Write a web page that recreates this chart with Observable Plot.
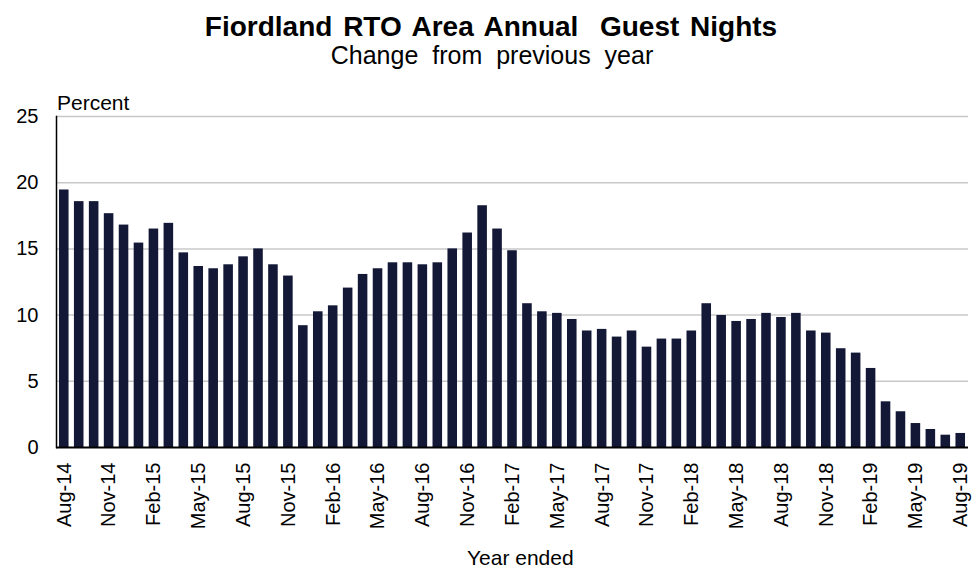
<!DOCTYPE html>
<html>
<head>
<meta charset="utf-8">
<script src="https://cdn.jsdelivr.net/npm/d3@7"></script>
<script src="https://cdn.jsdelivr.net/npm/@observablehq/plot@0.6"></script>
<style>
  html, body { margin: 0; padding: 0; background: #fff; }
  body { width: 972px; height: 570px; position: relative; overflow: hidden; font-family: "Liberation Sans", Arial, sans-serif; color: #000; }
  .t { position: absolute; white-space: pre; }
  #chart { position: absolute; left: 0; top: 0; }
</style>
</head>
<body>
<div class="t" id="title" style="left:0;width:982px;text-align:center;top:12.8px;font-size:28px;line-height:28px;font-weight:bold;word-spacing:3px;">Fiordland RTO Area Annual  Guest Nights</div>
<div class="t" id="subtitle" style="left:0;width:984px;text-align:center;top:42.8px;font-size:25px;line-height:25px;word-spacing:7px;">Change from previous year</div>
<div id="chart"></div>
<div class="t" id="ylabel" style="left:57px;top:92px;font-size:21px;line-height:21px;">Percent</div>
<div class="t" id="xlabel" style="left:467px;top:547px;font-size:21px;line-height:21px;">Year ended</div>
<script>
const months = [
  "Aug-14","Sep-14","Oct-14","Nov-14","Dec-14","Jan-15","Feb-15","Mar-15","Apr-15","May-15","Jun-15","Jul-15",
  "Aug-15","Sep-15","Oct-15","Nov-15","Dec-15","Jan-16","Feb-16","Mar-16","Apr-16","May-16","Jun-16","Jul-16",
  "Aug-16","Sep-16","Oct-16","Nov-16","Dec-16","Jan-17","Feb-17","Mar-17","Apr-17","May-17","Jun-17","Jul-17",
  "Aug-17","Sep-17","Oct-17","Nov-17","Dec-17","Jan-18","Feb-18","Mar-18","Apr-18","May-18","Jun-18","Jul-18",
  "Aug-18","Sep-18","Oct-18","Nov-18","Dec-18","Jan-19","Feb-19","Mar-19","Apr-19","May-19","Jun-19","Jul-19",
  "Aug-19"
];
const changePct = [
  19.45, 18.57, 18.57, 17.66, 16.8, 15.44, 16.5, 16.93, 14.7, 13.67, 13.5, 13.8,
  14.4, 15.0, 13.8, 12.95, 9.2, 10.25, 10.7, 12.04, 13.07, 13.5, 13.95, 13.95,
  13.8, 13.95, 15.0, 16.2, 18.26, 16.5, 14.86, 10.86, 10.25, 10.13, 9.67, 8.8,
  8.92, 8.34, 8.8, 7.58, 8.19, 8.19, 8.8, 10.86, 9.97, 9.52, 9.67, 10.13,
  9.82, 10.13, 8.8, 8.64, 7.46, 7.13, 5.97, 3.45, 2.7, 1.81, 1.36, 0.93,
  1.06
];
const xTickLabels = ["Aug-14","Nov-14","Feb-15","May-15","Aug-15","Nov-15","Feb-16","May-16","Aug-16","Nov-16","Feb-17",
  "May-17","Aug-17","Nov-17","Feb-18","May-18","Aug-18","Nov-18","Feb-19","May-19","Aug-19"];
const yTicks = [0, 5, 10, 15, 20, 25];
const gridTicks = [5, 10, 15, 20, 25];

const data = months.map((m, i) => ({month: m, value: changePct[i]}));

const chart = Plot.plot({
  width: 972,
  height: 570,
  marginTop: 116,
  marginBottom: 123,
  marginLeft: 56,
  marginRight: 4,
  style: {fontFamily: "'Liberation Sans', Arial, sans-serif", fontSize: "20px", color: "#000", background: "transparent"},
  x: {domain: months, paddingInner: 0.36, paddingOuter: 0.2, label: null},
  y: {domain: [0, 25], label: null},
  marks: [
    Plot.gridY(gridTicks, {stroke: "#c8c8c8", strokeOpacity: 1, strokeWidth: 1.5}),
    Plot.barY(data, {x: "month", y: "value", fill: "#131836"}),
    Plot.axisY({ticks: yTicks, tickSize: 0, tickPadding: 18, fontSize: 20, label: null}),
    Plot.axisX({ticks: xTickLabels, tickSize: 0, tickPadding: 15, tickRotate: -90, fontSize: 20, label: null}),
    Plot.frame({anchor: "left", stroke: "#000", strokeWidth: 1.5}),
    Plot.ruleY([0], {stroke: "#000", strokeWidth: 2})
  ]
});
document.getElementById("chart").appendChild(chart);
</script>
</body>
</html>
